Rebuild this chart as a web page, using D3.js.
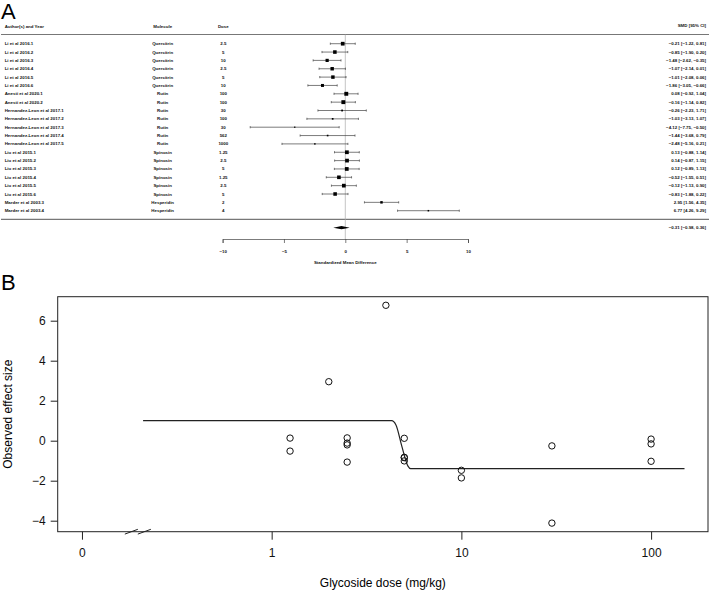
<!DOCTYPE html>
<html lang="en">
<head>
<meta charset="utf-8">
<title>Forest plot and dose-response</title>
<script src="https://cdn.jsdelivr.net/npm/d3@7"></script>
<style>
  body { margin: 0; background: #fff; }
  svg { display: block; font-family: "Liberation Sans", Arial, sans-serif; }
  .tbl { font-size: 4.4px; font-weight: bold; fill: #111; }
</style>
</head>
<body>
<svg width="709" height="591"></svg>
<script>
// forest plot data (panel A)
var studies = ["Li et al 2016.1", "Li et al 2016.2", "Li et al 2016.3", "Li et al 2016.4", "Li et al 2016.5", "Li et al 2016.6",
  "Anesti et al 2020.1", "Anesti et al 2020.2",
  "Hernandez-Leon et al 2017.1", "Hernandez-Leon et al 2017.2", "Hernandez-Leon et al 2017.3", "Hernandez-Leon et al 2017.4", "Hernandez-Leon et al 2017.5",
  "Liu et al 2015.1", "Liu et al 2015.2", "Liu et al 2015.3", "Liu et al 2015.4", "Liu et al 2015.5", "Liu et al 2015.6",
  "Marder et al 2003.3", "Marder et al 2003.4"];
var molecules = ["Quercitrin", "Quercitrin", "Quercitrin", "Quercitrin", "Quercitrin", "Quercitrin",
  "Rutin", "Rutin", "Rutin", "Rutin", "Rutin", "Rutin", "Rutin",
  "Spinosin", "Spinosin", "Spinosin", "Spinosin", "Spinosin", "Spinosin",
  "Hesperidin", "Hesperidin"];
var doses = [2.5, 5, 10, 2.5, 5, 10, 100, 100, 30, 100, 30, 562, 1000, 1.25, 2.5, 5, 1.25, 2.5, 5, 2, 4];
var smd = [-0.21, -0.85, -1.48, -1.07, -1.01, -1.86, 0.08, -0.16, -0.26, -1.03, -4.12, -1.44, -2.48, 0.13, 0.14, 0.12, -0.52, -0.12, -0.83, 2.95, 6.77];
var ciLow = [-1.22, -1.90, -2.62, -2.14, -2.08, -3.05, -0.92, -1.14, -2.23, -3.13, -7.75, -3.68, -5.16, -0.88, -0.87, -0.89, -1.55, -1.13, -1.88, 1.56, 4.26];
var ciHigh = [0.81, 0.20, -0.35, 0.01, 0.06, -0.66, 1.04, 0.82, 1.71, 1.07, -0.50, 0.79, 0.21, 1.14, 1.15, 1.13, 0.51, 0.90, 0.22, 4.35, 9.29];
var pooled = [-0.31, -0.98, 0.36];
var forestTicks = [-10, -5, 0, 5, 10];

// fitted curve (dose, effect)
var fitDose = [0.21, 4.29, 4.52, 4.86, 5.23, 5.40, 150];
var fitValue = [1.0, 1.0, 0.79, -0.3, -1.27, -1.40, -1.40];
var doseTicks = [0.1, 1, 10, 100];
var doseTickLabels = ["0", "1", "10", "100"];
var effectTicks = [-4, -2, 0, 2, 4, 6];

var svg = d3.select("svg");
var fmt = d3.format(".2f");
var rows = d3.range(studies.length);

// ---------- panel A ----------
var A = svg.append("g");
A.append("text").attr("x", 1).attr("y", 19).style("font-size", "22px").text("A");

var xF = d3.scaleLinear().domain([-10, 10]).range([222.6, 468]);
var yF = d3.scalePoint().domain(rows).range([43.7, 210.7]);

// headers
A.append("text").attr("class", "tbl").attr("x", 4.7).attr("y", 28.2).text("Author(s) and Year");
A.append("text").attr("class", "tbl").attr("x", 162.7).attr("y", 28.2).style("text-anchor", "middle").text("Molecule");
A.append("text").attr("class", "tbl").attr("x", 223.3).attr("y", 28.2).style("text-anchor", "middle").text("Dose");
A.append("text").attr("class", "tbl").attr("x", 706).attr("y", 27).style("text-anchor", "end").text("SMD [95% CI]");

// rules
A.append("line").attr("x1", 1).attr("x2", 709).attr("y1", 34.5).attr("y2", 34.5)
  .attr("stroke", "#777").attr("stroke-width", 1.2);
A.append("line").attr("x1", 1).attr("x2", 709).attr("y1", 219.3).attr("y2", 219.3)
  .attr("stroke", "#777").attr("stroke-width", 1.2);

// zero line
A.append("line").attr("x1", xF(0)).attr("x2", xF(0)).attr("y1", 34.5).attr("y2", 239)
  .attr("stroke", "#aaa").attr("stroke-width", 0.7);

// row text
function col(x, anchor, fn) {
  A.selectAll(null).data(rows).enter().append("text")
    .attr("class", "tbl")
    .attr("x", x)
    .attr("y", function (i) { return yF(i) + 1.5; })
    .style("text-anchor", anchor)
    .text(fn);
}
col(4.7, "start", function (i) { return studies[i]; });
col(162.7, "middle", function (i) { return molecules[i]; });
col(223.3, "middle", function (i) { return doses[i]; });
col(706, "end", function (i) {
  return fmt(smd[i]) + " [" + fmt(ciLow[i]) + ", " + fmt(ciHigh[i]) + "]";
});

// CI lines + caps
A.selectAll("line.ci").data(rows).enter().append("line")
  .attr("class", "ci")
  .attr("x1", function (i) { return xF(ciLow[i]); })
  .attr("x2", function (i) { return xF(ciHigh[i]); })
  .attr("y1", function (i) { return yF(i); })
  .attr("y2", function (i) { return yF(i); })
  .attr("stroke", "#444").attr("stroke-width", 0.7);
[ciLow, ciHigh].forEach(function (arr) {
  A.selectAll(null).data(rows).enter().append("line")
    .attr("x1", function (i) { return xF(arr[i]); })
    .attr("x2", function (i) { return xF(arr[i]); })
    .attr("y1", function (i) { return yF(i) - 1.1; })
    .attr("y2", function (i) { return yF(i) + 1.1; })
    .attr("stroke", "#444").attr("stroke-width", 0.7);
});

// squares sized by inverse-variance weight
var w = rows.map(function (i) { var se = (ciHigh[i] - ciLow[i]) / 3.92; return 1 / (se * se); });
var wMin = d3.min(w), wMax = d3.max(w);
var psize = w.map(function (v) { return ((v - wMin) / (wMax - wMin)) + 0.5; });
A.selectAll("rect.pt").data(rows).enter().append("rect")
  .attr("class", "pt")
  .attr("width", function (i) { return psize[i] * 2.6; })
  .attr("height", function (i) { return psize[i] * 2.6; })
  .attr("x", function (i) { return xF(smd[i]) - psize[i] * 1.3; })
  .attr("y", function (i) { return yF(i) - psize[i] * 1.3; })
  .attr("fill", "#000");

// summary diamond
var yD = 227.7;
A.append("path")
  .attr("d", "M" + xF(pooled[1]) + "," + yD + "L" + xF(pooled[0]) + "," + (yD - 1.6) +
    "L" + xF(pooled[2]) + "," + yD + "L" + xF(pooled[0]) + "," + (yD + 1.6) + "Z")
  .attr("fill", "#000");
A.append("text").attr("class", "tbl").attr("x", 706).attr("y", yD + 1.5)
  .style("text-anchor", "end")
  .text(fmt(pooled[0]) + " [" + fmt(pooled[1]) + ", " + fmt(pooled[2]) + "]");

// forest axis
var axF = A.append("g").attr("transform", "translate(0,239)")
  .call(d3.axisBottom(xF).tickValues(forestTicks).tickSize(4).tickPadding(7).tickFormat(d3.format("d")));
axF.select(".domain").attr("stroke", "#444").attr("stroke-width", 0.7);
axF.selectAll(".tick line").attr("stroke", "#444").attr("stroke-width", 0.7);
axF.selectAll("text").attr("class", "tbl").attr("fill", "#111");
A.append("text").attr("class", "tbl").attr("x", xF(0)).attr("y", 264)
  .style("text-anchor", "middle").text("Standardized Mean Difference");

// ---------- panel B ----------
var B = svg.append("g");
B.append("text").attr("x", 1).attr("y", 290).style("font-size", "22px").text("B");

var box = { left: 57.7, right: 708, top: 296.7, bottom: 531.7 };
var xB = d3.scaleLog().domain([0.0745, 199.5]).range([box.left, box.right]);
var yB = d3.scaleLinear().domain([-4.55, 7.2]).range([box.bottom, box.top]);

B.append("rect").attr("x", box.left).attr("y", box.top)
  .attr("width", box.right - box.left).attr("height", box.bottom - box.top)
  .attr("fill", "none").attr("stroke", "#222").attr("stroke-width", 1);

var axX = B.append("g").attr("transform", "translate(0," + box.bottom + ")")
  .call(d3.axisBottom(xB).tickValues(doseTicks).tickSize(8).tickPadding(9)
    .tickFormat(function (d, i) { return doseTickLabels[i]; }));
axX.select(".domain").remove();
axX.selectAll("text").style("font-size", "12px").attr("fill", "#111");
axX.selectAll(".tick line").attr("stroke", "#222");

var axY = B.append("g").attr("transform", "translate(" + box.left + ",0)")
  .call(d3.axisLeft(yB).tickValues(effectTicks).tickSize(7).tickPadding(5));
axY.select(".domain").remove();
axY.selectAll("text").style("font-size", "12px").attr("fill", "#111");
axY.selectAll(".tick line").attr("stroke", "#222");

// axis break marks
var bx = xB(0.19);
[[bx - 10, bx + 3], [bx + 3, bx + 16]].forEach(function (s) {
  B.append("line").attr("x1", s[0]).attr("x2", s[1])
    .attr("y1", box.bottom + 2.4).attr("y2", box.bottom - 2.4)
    .attr("stroke", "#222").attr("stroke-width", 1);
});

B.append("text").attr("x", (box.left + box.right) / 2).attr("y", 587)
  .style("text-anchor", "middle").style("font-size", "12px").text("Glycoside dose (mg/kg)");
B.append("text")
  .attr("transform", "translate(12," + ((box.top + box.bottom) / 2) + ") rotate(-90)")
  .style("text-anchor", "middle").style("font-size", "12px").text("Observed effect size");

// fitted curve
var fit = fitDose.map(function (d, i) { return [d, fitValue[i]]; });
B.append("path").datum(fit)
  .attr("d", d3.line().x(function (d) { return xB(d[0]); }).y(function (d) { return yB(d[1]); })
    .curve(d3.curveMonotoneX))
  .attr("fill", "none").attr("stroke", "#222").attr("stroke-width", 1.2);

// observed effects (only doses within the axis range)
var shown = rows.filter(function (i) { return doses[i] <= xB.domain()[1]; });
B.selectAll("circle").data(shown).enter().append("circle")
  .attr("cx", function (i) { return xB(doses[i]); })
  .attr("cy", function (i) { return yB(smd[i]); })
  .attr("r", 3.2)
  .attr("fill", "none").attr("stroke", "#111").attr("stroke-width", 1);
</script>
</body>
</html>
